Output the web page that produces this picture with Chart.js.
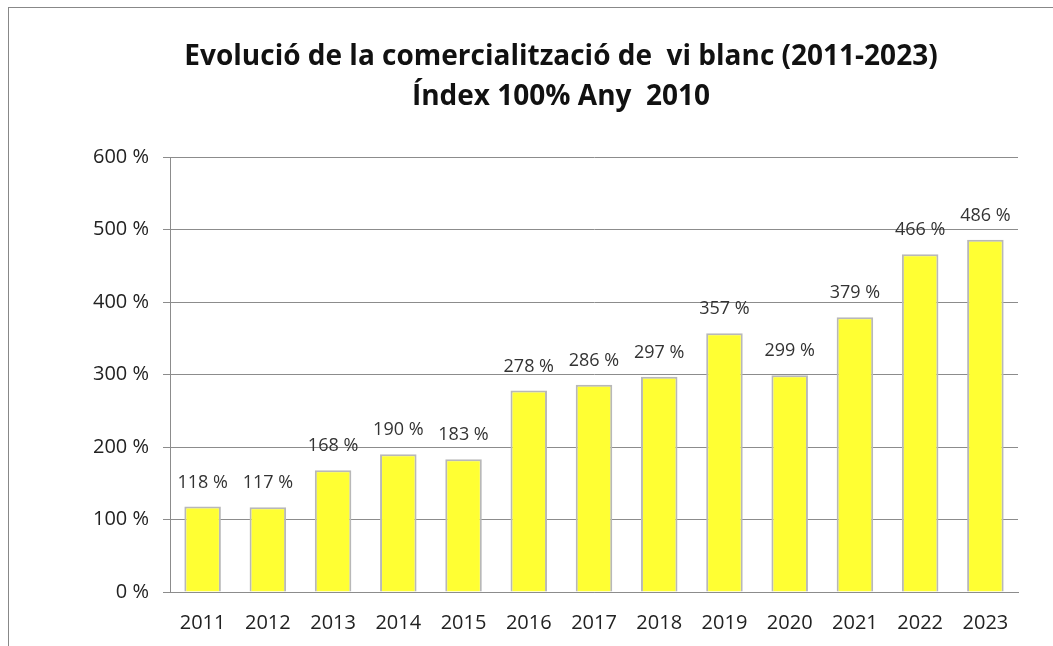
<!DOCTYPE html>
<html>
<head>
<meta charset="utf-8">
<script src="https://cdn.jsdelivr.net/npm/chart.js@4"></script>
<style>
  html, body { margin: 0; padding: 0; background: #fff; overflow: hidden; }
  #frame { position: absolute; left: 8px; top: 7px; width: 1200px; height: 700px;
           border-top: 1px solid #888; border-left: 1px solid #888; }
  #wrap { position: absolute; left: 0; top: 0; width: 1053px; height: 646px; }
</style>
</head>
<body>
<div id="frame"></div>
<div id="wrap"><canvas id="myChart" width="1053" height="646"></canvas></div>
<script>
const anys = ["2011", "2012", "2013", "2014", "2015", "2016", "2017", "2018", "2019", "2020", "2021", "2022", "2023"]
const valors = [118, 117, 168, 190, 183, 278, 286, 297, 357, 299, 379, 466, 486]
const titol = ["Evolució de la comercialització de  vi blanc (2011-2023)", "Índex 100% Any  2010"]

// etiquetes de valor sobre cada barra
const etiquetesPlugin = {
    id: 'etiquetes',
    afterLayout(chart) {
        // el títol es centra sobre el marc, no sobre el canvas
        if (chart.titleBlock) {
            chart.titleBlock.left = 0
            chart.titleBlock.right = 1122
            chart.titleBlock.width = 1122
        }
    },
    afterDatasetsDraw(chart) {
        const ctx = chart.ctx
        const meta = chart.getDatasetMeta(0)
        ctx.save()
        ctx.font = '18px "Open Sans"'
        ctx.fillStyle = '#333'
        ctx.textAlign = 'center'
        ctx.textBaseline = 'middle'
        meta.data.forEach((bar, i) => {
            ctx.fillText(valors[i] + ' %', bar.x, bar.y - 24)
        })
        ctx.restore()
    }
}

const ctx = document.querySelector("#myChart").getContext("2d")

new Chart(ctx, {
    type: 'bar',
    data: {
        labels: anys,
        datasets: [{
            data: valors,
            backgroundColor: '#FFFF33',
            borderColor: '#B8B8B8',
            borderWidth: 2,
            categoryPercentage: 1,
            barPercentage: 0.56
        }]
    },
    options: {
        responsive: false,
        animation: false,
        layout: { padding: { left: 20, right: 35, top: 0, bottom: 0 } },
        plugins: {
            legend: { display: false },
            tooltip: { enabled: false },
            title: {
                display: true,
                text: titol,
                color: '#111',
                font: { family: '"Open Sans"', size: 28, weight: 'bold', lineHeight: 1.43 },
                padding: { top: 37, bottom: 40 }
            }
        },
        scales: {
            x: {
                grid: { display: false },
                border: { display: true, color: '#8c8c8c', width: 1 },
                ticks: { color: '#222', font: { family: '"Open Sans"', size: 20 }, padding: 11 },
                afterFit: (axis) => { axis.height = 54 }
            },
            y: {
                min: 0,
                max: 600,
                ticks: {
                    stepSize: 100,
                    color: '#222',
                    font: { family: '"Open Sans"', size: 20 },
                    padding: 14,
                    callback: (v) => v + ' %'
                },
                grid: { color: '#8c8c8c', tickLength: 7 },
                border: { display: true, color: '#8c8c8c' },
                afterFit: (axis) => { axis.width = 150 }
            }
        }
    },
    plugins: [etiquetesPlugin]
})
</script>
</body>
</html>
